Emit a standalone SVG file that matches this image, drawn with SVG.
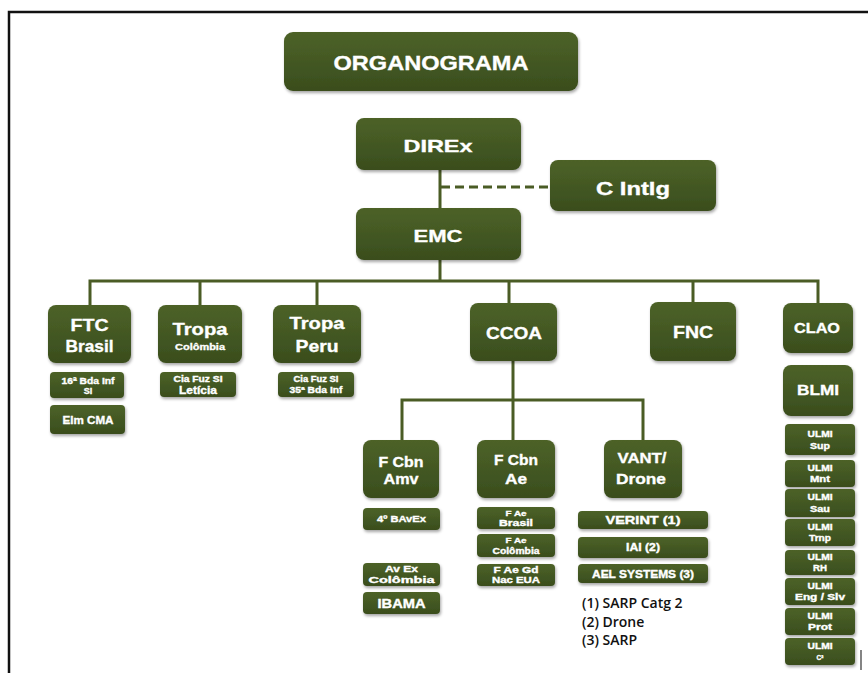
<svg xmlns="http://www.w3.org/2000/svg" width="868" height="673" viewBox="0 0 868 673">
<defs>
<linearGradient id="g" x1="0" y1="0" x2="0" y2="1">
<stop offset="0" stop-color="#4d6228"/>
<stop offset="0.5" stop-color="#435823"/>
<stop offset="1" stop-color="#3a4d1d"/>
</linearGradient>
<filter id="sh" x="-10%" y="-10%" width="125%" height="130%">
<feDropShadow dx="1" dy="2" stdDeviation="1.5" flood-color="#000" flood-opacity="0.35"/>
</filter>
</defs>
<style>
rect.b{fill:url(#g);filter:url(#sh)}
text{font-family:"Liberation Sans",Arial,sans-serif;font-weight:bold;fill:#fff;stroke:#fff;stroke-width:0.35;text-anchor:middle}
.ln{fill:none;stroke:#4a5c25;stroke-width:3}
.dash{fill:none;stroke:#4a5c25;stroke-width:3;stroke-dasharray:9,5}
text.leg{font-family:"Open Sans","Noto Sans",sans-serif;font-weight:600;fill:#111;stroke:none;text-anchor:start;font-size:14px}
</style>
<rect width="868" height="673" fill="#fff"/>
<path d="M9,673 V12 H868" fill="none" stroke="#111" stroke-width="2.5"/>
<path d="M861,650 V670" stroke="#333" stroke-width="1.2"/>

<g id="connectors">
<path class="ln" d="M440,170 V208"/>
<path class="dash" d="M441,187 H550"/>
<path class="ln" d="M440,260 V281"/>
<path class="ln" d="M90,305 V281 H818 V303"/>
<path class="ln" d="M200,281 V305 M317,281 V305 M509,281 V303 M693,281 V302"/>
<path class="ln" d="M513,361 V440"/>
<path class="ln" d="M402,440 V400 H643 V440"/>
</g>

<g id="organograma"><rect class="b" x="284" y="32" width="294" height="59" rx="9"/><text x="431" y="70" font-size="21" textLength="195" lengthAdjust="spacingAndGlyphs">ORGANOGRAMA</text></g>
<g id="direx"><rect class="b" x="356" y="118" width="165" height="52" rx="8"/><text x="438" y="152" font-size="17" textLength="69" lengthAdjust="spacingAndGlyphs">DIREx</text></g>
<g id="cintlg"><rect class="b" x="550" y="160" width="166" height="51" rx="8"/><text x="633" y="195" font-size="18" textLength="74" lengthAdjust="spacingAndGlyphs">C Intlg</text></g>
<g id="emc"><rect class="b" x="356" y="208" width="165" height="52" rx="8"/><text x="438" y="242" font-size="17" textLength="49" lengthAdjust="spacingAndGlyphs">EMC</text></g>

<g id="ftc"><rect class="b" x="48" y="305" width="83" height="58" rx="8"/><text x="89.5" y="331" font-size="17" textLength="38" lengthAdjust="spacingAndGlyphs">FTC</text><text x="89.5" y="352" font-size="17" textLength="48" lengthAdjust="spacingAndGlyphs">Brasil</text></g>
<g id="ftc1"><rect class="b" x="50" y="372" width="74" height="26" rx="4"/><text x="88" y="384" font-size="9" textLength="53" lengthAdjust="spacingAndGlyphs">16ª Bda Inf</text><text x="88" y="394" font-size="9">SI</text></g>
<g id="ftc2"><rect class="b" x="50" y="405" width="75" height="29" rx="4"/><text x="88" y="424" font-size="11" textLength="51" lengthAdjust="spacingAndGlyphs">Elm CMA</text></g>

<g id="tropacol"><rect class="b" x="158" y="305" width="84" height="58" rx="8"/><text x="200" y="335" font-size="17" textLength="55" lengthAdjust="spacingAndGlyphs">Tropa</text><text x="200" y="350" font-size="9.5" textLength="50" lengthAdjust="spacingAndGlyphs">Colômbia</text></g>
<g id="tropacol1"><rect class="b" x="160" y="372" width="76" height="25" rx="4"/><text x="198" y="382" font-size="8.5" textLength="49" lengthAdjust="spacingAndGlyphs">Cia Fuz SI</text><text x="198" y="394" font-size="10" textLength="38" lengthAdjust="spacingAndGlyphs">Letícia</text></g>

<g id="tropaperu"><rect class="b" x="273" y="305" width="88" height="58" rx="8"/><text x="317" y="329" font-size="17" textLength="55" lengthAdjust="spacingAndGlyphs">Tropa</text><text x="317" y="352" font-size="17" textLength="43" lengthAdjust="spacingAndGlyphs">Peru</text></g>
<g id="tropaperu1"><rect class="b" x="278" y="372" width="76" height="25" rx="4"/><text x="316" y="382" font-size="8.5" textLength="45" lengthAdjust="spacingAndGlyphs">Cia Fuz SI</text><text x="316" y="393" font-size="8.5" textLength="53" lengthAdjust="spacingAndGlyphs">35ª Bda Inf</text></g>

<g id="ccoa"><rect class="b" x="470" y="303" width="87" height="58" rx="8"/><text x="514" y="338.5" font-size="17" textLength="56" lengthAdjust="spacingAndGlyphs">CCOA</text></g>
<g id="fnc"><rect class="b" x="650" y="302" width="86" height="59" rx="8"/><text x="693" y="338" font-size="17" textLength="40" lengthAdjust="spacingAndGlyphs">FNC</text></g>

<g id="fcbnamv"><rect class="b" x="363" y="440" width="76" height="58" rx="8"/><text x="401" y="467" font-size="15" textLength="45" lengthAdjust="spacingAndGlyphs">F Cbn</text><text x="401" y="484" font-size="15" textLength="35" lengthAdjust="spacingAndGlyphs">Amv</text></g>
<g id="bavex"><rect class="b" x="363" y="508" width="77" height="22" rx="4"/><text x="401.5" y="522" font-size="9" textLength="49" lengthAdjust="spacingAndGlyphs">4º BAvEx</text></g>
<g id="avexcol"><rect class="b" x="363" y="563" width="77" height="23" rx="4"/><text x="401.5" y="572" font-size="9" textLength="33" lengthAdjust="spacingAndGlyphs">Av Ex</text><text x="401.5" y="583" font-size="9" textLength="66" lengthAdjust="spacingAndGlyphs">Colômbia</text></g>
<g id="ibama"><rect class="b" x="363" y="592" width="77" height="22" rx="4"/><text x="401.5" y="608" font-size="12" textLength="48" lengthAdjust="spacingAndGlyphs">IBAMA</text></g>

<g id="fcbnae"><rect class="b" x="477" y="440" width="78" height="58" rx="8"/><text x="516" y="465" font-size="15" textLength="44" lengthAdjust="spacingAndGlyphs">F Cbn</text><text x="516" y="484" font-size="15" textLength="22" lengthAdjust="spacingAndGlyphs">Ae</text></g>
<g id="faebr"><rect class="b" x="477" y="507" width="78" height="22" rx="4"/><text x="516" y="516" font-size="8" textLength="21" lengthAdjust="spacingAndGlyphs">F Ae</text><text x="516" y="526" font-size="8.5" textLength="34" lengthAdjust="spacingAndGlyphs">Brasil</text></g>
<g id="faecol"><rect class="b" x="477" y="534" width="78" height="23" rx="4"/><text x="516" y="543" font-size="8" textLength="21" lengthAdjust="spacingAndGlyphs">F Ae</text><text x="516" y="554" font-size="8.5" textLength="47" lengthAdjust="spacingAndGlyphs">Colômbia</text></g>
<g id="faeeua"><rect class="b" x="477" y="564" width="78" height="22" rx="4"/><text x="516" y="573" font-size="8.5" textLength="45" lengthAdjust="spacingAndGlyphs">F Ae Gd</text><text x="516" y="583" font-size="8.5" textLength="48" lengthAdjust="spacingAndGlyphs">Nac EUA</text></g>

<g id="vant"><rect class="b" x="604" y="440" width="78" height="58" rx="8"/><text x="642" y="463" font-size="15" textLength="49" lengthAdjust="spacingAndGlyphs">VANT/</text><text x="641" y="484" font-size="15" textLength="50" lengthAdjust="spacingAndGlyphs">Drone</text></g>
<g id="verint"><rect class="b" x="578" y="511" width="130" height="18" rx="4"/><text x="643" y="524" font-size="10" textLength="75" lengthAdjust="spacingAndGlyphs">VERINT (1)</text></g>
<g id="iai"><rect class="b" x="578" y="537" width="130" height="21" rx="4"/><text x="643" y="551" font-size="10" textLength="34" lengthAdjust="spacingAndGlyphs">IAI (2)</text></g>
<g id="ael"><rect class="b" x="578" y="564" width="130" height="19" rx="4"/><text x="643" y="577.5" font-size="10" textLength="102" lengthAdjust="spacingAndGlyphs">AEL SYSTEMS (3)</text></g>
<g id="legend"><text class="leg" x="582" y="608">(1) SARP Catg 2</text><text class="leg" x="582" y="627">(2) Drone</text><text class="leg" x="582" y="645">(3) SARP</text></g>

<g id="clao"><rect class="b" x="783" y="303" width="70" height="50" rx="8"/><text x="817" y="333" font-size="15" textLength="46" lengthAdjust="spacingAndGlyphs">CLAO</text></g>
<g id="blmi"><rect class="b" x="783" y="365" width="70" height="51" rx="8"/><text x="818" y="395" font-size="15" textLength="42" lengthAdjust="spacingAndGlyphs">BLMI</text></g>
<g id="ulmisup"><rect class="b" x="785" y="424" width="70" height="31" rx="4"/><text x="820" y="437" font-size="8.5" textLength="25" lengthAdjust="spacingAndGlyphs">ULMI</text><text x="820" y="449" font-size="8.5" textLength="20" lengthAdjust="spacingAndGlyphs">Sup</text></g>
<g id="ulmimnt"><rect class="b" x="785" y="460" width="70" height="27" rx="4"/><text x="820" y="471" font-size="8.5" textLength="25" lengthAdjust="spacingAndGlyphs">ULMI</text><text x="820" y="482" font-size="8.5" textLength="20" lengthAdjust="spacingAndGlyphs">Mnt</text></g>
<g id="ulmisau"><rect class="b" x="785" y="489" width="70" height="28" rx="4"/><text x="820" y="500" font-size="8.5" textLength="25" lengthAdjust="spacingAndGlyphs">ULMI</text><text x="820" y="512" font-size="8.5" textLength="20" lengthAdjust="spacingAndGlyphs">Sau</text></g>
<g id="ulmitrnp"><rect class="b" x="785" y="519" width="70" height="27" rx="4"/><text x="820" y="530" font-size="8.5" textLength="25" lengthAdjust="spacingAndGlyphs">ULMI</text><text x="820" y="541" font-size="8.5" textLength="22" lengthAdjust="spacingAndGlyphs">Trnp</text></g>
<g id="ulmirh"><rect class="b" x="785" y="550" width="70" height="25" rx="4"/><text x="820" y="560" font-size="8.5" textLength="25" lengthAdjust="spacingAndGlyphs">ULMI</text><text x="820" y="571" font-size="8.5" textLength="14" lengthAdjust="spacingAndGlyphs">RH</text></g>
<g id="ulmieng"><rect class="b" x="785" y="578" width="70" height="27" rx="4"/><text x="820" y="589" font-size="8.5" textLength="25" lengthAdjust="spacingAndGlyphs">ULMI</text><text x="820" y="600" font-size="8.5" textLength="50" lengthAdjust="spacingAndGlyphs">Eng / Slv</text></g>
<g id="ulmiprot"><rect class="b" x="785" y="608" width="70" height="27" rx="4"/><text x="820" y="619" font-size="8.5" textLength="25" lengthAdjust="spacingAndGlyphs">ULMI</text><text x="820" y="630" font-size="8.5" textLength="24" lengthAdjust="spacingAndGlyphs">Prot</text></g>
<g id="ulmic2"><rect class="b" x="785" y="638" width="70" height="27" rx="4"/><text x="820" y="649" font-size="8.5" textLength="25" lengthAdjust="spacingAndGlyphs">ULMI</text><text x="820" y="660" font-size="6.5">C²</text></g>
</svg>
